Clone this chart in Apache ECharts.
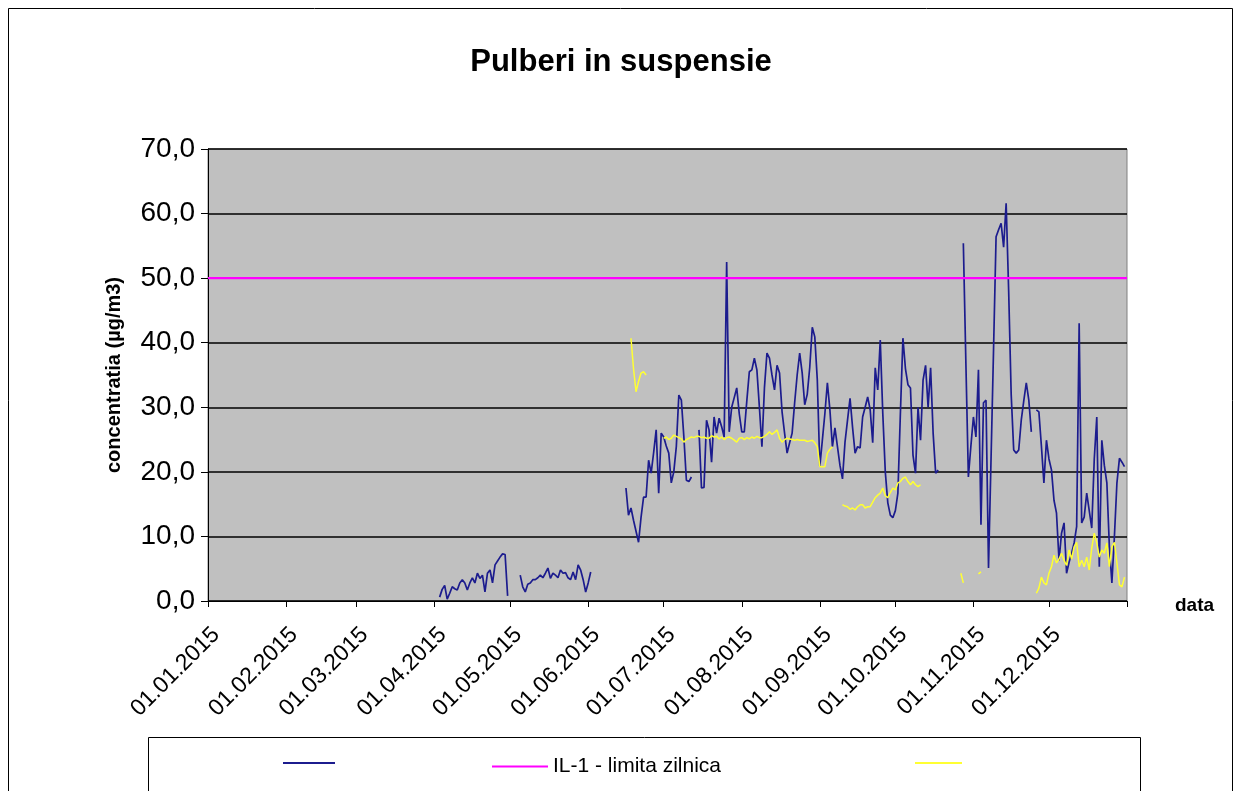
<!DOCTYPE html>
<html>
<head>
<meta charset="utf-8">
<title>Pulberi in suspensie</title>
<script src="https://cdn.jsdelivr.net/npm/echarts@6/dist/echarts.min.js"></script>
<style>
  html, body { margin: 0; padding: 0; background: #fff; }
  #chart { width: 1242px; height: 791px; }
</style>
</head>
<body>
<div id="chart"></div>
<script>
// etichetele axei x (inceput de luna)
const monthLabels = ['01.01.2015', '01.02.2015', '01.03.2015', '01.04.2015', '01.05.2015', '01.06.2015',
  '01.07.2015', '01.08.2015', '01.09.2015', '01.10.2015', '01.11.2015', '01.12.2015']

const yTicks = [0, 10, 20, 30, 40, 50, 60, 70]
const limitValue = 50

// valori zilnice seria albastra, fiecare bucata incepe la data data
const blueApr = [0.6, 1.8, 2.4, 0.3, 1.2, 2.2, 1.9, 1.7, 2.8, 3.3, 2.8, 1.7, 2.8, 3.6, 2.8, 4.3, 3.5, 4.0,
  1.4, 4.3, 4.8, 2.8, 5.6, 6.2, 6.8, 7.3, 7.2, 0.8]
const blueMay = [4.0, 2.2, 1.4, 2.6, 2.8, 3.3, 3.3, 3.6, 4.0, 3.6, 4.3, 5.1, 3.5, 4.3, 4.0, 3.6, 4.8, 4.3,
  4.4, 3.6, 3.3, 4.5, 3.3, 5.6, 4.8, 3.3, 1.4, 2.8, 4.5]
const blueJun = [17.5, 13.3, 14.4, 12.5, 10.8, 9.1, 13, 16.1, 16.1, 21.8, 19.8, 23, 26.5, 16.7, 26, 25.4,
  24, 22.9, 18.3, 20, 23.9, 31.9, 31.1, 25.4, 18.7, 18.5, 19.2]
const blueJul = [26.5, 17.5, 17.6, 28, 26.5, 21.5, 28.5, 26, 28.3, 27,
  25.4, 52.5, 26.2, 30, 31.5, 33, 29, 26.2, 26.2, 31,
  35.5, 35.8, 37.6, 35.8, 30, 23.9, 33, 38.4, 37.6, 35,
  32.7, 36.5, 35.3, 29.3, 26, 22.9, 24.5, 26, 30.7, 35,
  38.4, 35.3, 30.4, 32, 36.2, 42.4, 40.9, 34.2, 20.8, 24.9,
  29, 33.8, 29.6, 23.9, 26.8, 23.9, 21, 18.9, 24.6, 28,
  31.4, 26.9, 22.9, 23.9, 23.7, 28.5, 30, 31.6, 29.6, 24.5,
  36.1, 32.7, 40.4, 29.1, 20, 15.2, 13.3, 12.9, 14, 16.7,
  29.1, 40.7, 36, 33.5, 33, 22.6, 19.8, 30, 24.9, 34.2,
  36.5, 30, 36.1, 26, 19.8, 20.3]
const blueNov = [55.4, 37, 19.2, 24, 28.5, 25.4, 35.8, 11.8, 30.7, 31.1, 5.1, 22, 39, 56.4, 57.5, 58.5,
  54.8, 61.6, 48, 32, 23.4, 22.9, 23.4, 28, 31, 33.8, 31.1, 26.2]
const blueDec = [29.6, 29.3, 24, 18.3, 24.9, 22, 20.3, 15.6, 13.6, 6.3, 10.5, 12.1, 4.3, 6, 7.4, 9,
  11.5, 43, 12.1, 13, 16.7, 14, 11.3, 22, 28.5, 5.3, 24.9, 21, 18.3, 8.4, 2.8, 10, 18.3, 22.1, 21.5, 20.8]

// seria galbena
const yellowJun = [40.7, 36, 32.4, 34, 35.3, 35.5, 35]
const yellowJul = [25.2, 25.4, 25, 25.2, 25.7, 25.5, 25.3, 25.1, 24.6, 25,
  25.2, 25.4, 25.3, 25.5, 25.5, 25.3, 25.4, 25.2, 25.2, 25.6,
  25.4, 25.5, 25.1, 25.4, 25, 25.3, 25.4, 25.2, 24.9, 24.6,
  25.2, 25.3, 25, 25.3, 25.1, 25.4, 25.2, 25.5, 25.3, 25.3,
  25.5, 25.8, 26.2, 25.8, 26.1, 26.5, 25.2, 24.6, 25, 25.2,
  25.1, 25, 24.9, 25, 24.9, 24.9, 24.9, 24.7, 24.8, 24.9,
  24.5, 23.9, 20.8, 20.8, 20.8, 22.9, 23.5, 23.9]
const yellowSep = [14.9, 14.7, 14.6, 14.2, 14.4, 14.1, 14.6, 14.9, 14.9, 14.4, 14.6, 14.6, 15.3, 16, 16.4,
  16.7, 17.5, 16.3, 16, 16.8, 17.5, 17.2, 18.3, 18.5, 19, 19.2, 18.5, 18, 18.5, 18, 17.7, 18]
const yellowOct = [4.3, 2.8]
const yellowNov = [4.2, 4.5]
const yellowDec = [1.2, 2, 3.7, 2.8, 2.5, 4.3, 5.3, 7.1, 5.9, 6.5, 7.4, 6.3, 5.5, 7.9, 6.5, 8.4, 9.1, 5.3,
  6.3, 5.3, 6.8, 4.8, 8.2, 10.5, 9, 6.8, 7.9, 7.4, 9, 5.3, 8.4, 9.1, 5.9, 2.5, 2.2, 3.7]

// zilele anului (plus 01.01.2016 pentru capatul axei)
const pad = (n) => (n < 10 ? '0' + n : '' + n)
const days = []
for (let t = Date.UTC(2015, 0, 1); t <= Date.UTC(2016, 0, 1); t += 86400000) {
  const d = new Date(t)
  days.push(pad(d.getUTCDate()) + '.' + pad(d.getUTCMonth() + 1) + '.' + d.getUTCFullYear())
}

function fill(pieces) {
  const arr = days.map(() => null)
  pieces.forEach(([start, values]) => {
    const idx = days.indexOf(start)
    values.forEach((v, i) => { arr[idx + i] = v })
  })
  return arr
}

const blueData = fill([['03.04.2015', blueApr], ['05.05.2015', blueMay], ['16.06.2015', blueJun],
  ['15.07.2015', blueJul], ['28.10.2015', blueNov], ['26.11.2015', blueDec]])
const yellowData = fill([['18.06.2015', yellowJun], ['01.07.2015', yellowJul], ['10.09.2015', yellowSep],
  ['27.10.2015', yellowOct], ['03.11.2015', yellowNov], ['26.11.2015', yellowDec]])
const limitData = days.map(() => limitValue)

const font = 'Liberation Sans, Arial, sans-serif'
const chart = echarts.init(document.getElementById('chart'))

chart.setOption({
  animation: false,
  backgroundColor: '#fff',
  title: {
    text: 'Pulberi in suspensie',
    left: 'center',
    top: 42,
    textStyle: { fontFamily: font, fontSize: 31, fontWeight: 'bold', color: '#000' }
  },
  grid: {
    left: 208, top: 149, width: 919, height: 452,
    show: true, backgroundColor: '#c0c0c0', borderColor: '#808080', borderWidth: 1
  },
  xAxis: {
    type: 'category',
    data: days,
    boundaryGap: false,
    axisLine: { lineStyle: { color: '#000', width: 1 } },
    axisTick: { show: true, length: 6, lineStyle: { color: '#000' }, interval: (i, v) => v.slice(0, 3) === '01.' },
    splitLine: { show: false },
    axisLabel: {
      interval: (i, v) => monthLabels.includes(v),
      rotate: 45,
      margin: 22,
      verticalAlign: 'top',
      fontFamily: font,
      fontSize: 23,
      color: '#000'
    }
  },
  yAxis: {
    type: 'value',
    min: yTicks[0],
    max: yTicks[yTicks.length - 1],
    interval: 10,
    name: 'concentratia (µg/m3)',
    nameLocation: 'middle',
    nameRotate: 90,
    nameGap: 84,
    nameTextStyle: { fontFamily: font, fontSize: 20, fontWeight: 'bold', color: '#000' },
    axisLine: { show: true, lineStyle: { color: '#000', width: 1 } },
    axisTick: { show: true, length: 7, lineStyle: { color: '#000' } },
    splitLine: { show: true, lineStyle: { color: '#000', width: 1.5 } },
    axisLabel: {
      margin: 13,
      fontFamily: font,
      fontSize: 28,
      color: '#000',
      formatter: (v) => v.toFixed(1).replace('.', ',')
    }
  },
  legend: [
    {
      data: ['Pulberi'], left: 278, top: 757, icon: 'rect', itemWidth: 52, itemHeight: 2,
      formatter: () => '', textStyle: { fontSize: 20 }
    },
    {
      data: ['IL-1 - limita zilnica'], left: 487, top: 751, icon: 'rect', itemWidth: 56, itemHeight: 2,
      textStyle: { fontFamily: font, fontSize: 21, color: '#000' }
    },
    {
      data: ['Pulberi medie'], left: 910, top: 757, icon: 'rect', itemWidth: 47, itemHeight: 2,
      formatter: () => '', textStyle: { fontSize: 20 }
    }
  ],
  graphic: [
    { type: 'rect', shape: { x: 8.5, y: 8.5, width: 1224, height: 800 }, style: { fill: 'none', stroke: '#000', lineWidth: 1 }, z: 100 },
    { type: 'rect', shape: { x: 148.5, y: 737.5, width: 992, height: 80 }, style: { fill: 'none', stroke: '#000', lineWidth: 1 }, z: 100 },
    {
      type: 'text', x: 1175, y: 606, z: 100,
      style: { text: 'data', fontFamily: font, fontSize: 19, fontWeight: 'bold', fill: '#000', verticalAlign: 'middle' }
    }
  ],
  series: [
    {
      name: 'Pulberi',
      type: 'line',
      data: blueData,
      symbol: 'none',
      connectNulls: false,
      color: '#1c1c8e',
      lineStyle: { color: '#1c1c8e', width: 1.7 }
    },
    {
      name: 'IL-1 - limita zilnica',
      type: 'line',
      data: limitData,
      symbol: 'none',
      color: '#ff00ff',
      lineStyle: { color: '#ff00ff', width: 2.2 }
    },
    {
      name: 'Pulberi medie',
      type: 'line',
      data: yellowData,
      symbol: 'none',
      connectNulls: false,
      color: '#ffff33',
      lineStyle: { color: '#ffff33', width: 1.5 }
    }
  ]
})
</script>
</body>
</html>
